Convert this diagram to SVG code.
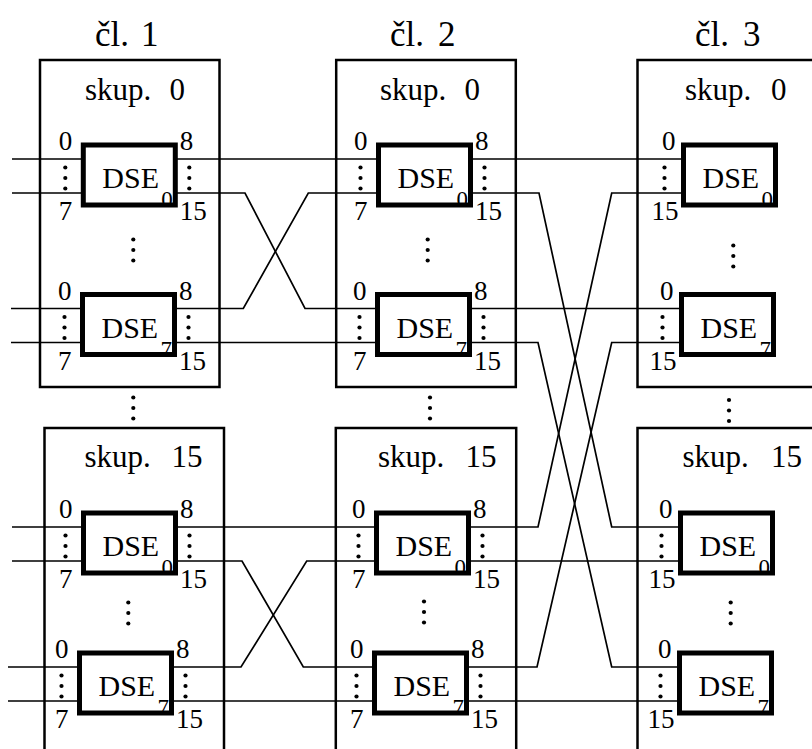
<svg xmlns="http://www.w3.org/2000/svg" xmlns:xlink="http://www.w3.org/1999/xlink" width="812" height="749" viewBox="0 0 812 749" font-family="'Liberation Serif', 'DejaVu Serif', 'Times New Roman', serif">
<style>
.grp{fill:none;stroke:#000;stroke-width:2.5}
.dse{fill:none;stroke:#000;stroke-width:5}
.w{fill:none;stroke:#000;stroke-width:1.7;stroke-linejoin:miter}
text{font-family:'Liberation Serif','DejaVu Serif','Times New Roman',serif;fill:#000}
.t{font-size:35px}
.g{font-size:31px}
.n{font-size:30px}
.p{font-size:27px}
.s{font-size:23px}
.e{text-anchor:end}
</style>
<defs>
<g id="vd"><circle cx="0" cy="-10.5" r="2.1"/><circle cx="0" cy="0" r="2.1"/><circle cx="0" cy="10.5" r="2.1"/></g>
</defs>
<rect width="812" height="749" fill="#fff"/>
<g id="titles">
<text class="t" x="95" y="46">čl. <tspan x="141">1</tspan></text>
<text class="t" x="390" y="46">čl. <tspan x="438">2</tspan></text>
<text class="t" x="695" y="46">čl. <tspan x="743">3</tspan></text>
</g>
<g id="c1g0"><rect class="grp" x="40" y="60" width="179.5" height="327"/><text class="g" x="85" y="100">skup. <tspan x="169.5">0</tspan></text><use xlink:href="#vd" x="133.3" y="250"/></g>
<g id="c1g15"><rect class="grp" x="44.5" y="428" width="179.5" height="340"/><text class="g" x="84.5" y="467">skup. <tspan x="171.5">15</tspan></text><use xlink:href="#vd" x="128.3" y="613"/></g>
<g id="c2g0"><rect class="grp" x="336.2" y="60" width="179.6" height="327"/><text class="g" x="380" y="100">skup. <tspan x="464.5">0</tspan></text><use xlink:href="#vd" x="427.7" y="250"/></g>
<g id="c2g15"><rect class="grp" x="335.8" y="428" width="180.4" height="340"/><text class="g" x="378" y="467">skup. <tspan x="465.5">15</tspan></text><use xlink:href="#vd" x="424" y="612"/></g>
<g id="c3g0"><rect class="grp" x="637.5" y="60" width="200" height="327"/><text class="g" x="685" y="100">skup. <tspan x="771">0</tspan></text><use xlink:href="#vd" x="733.3" y="256"/></g>
<g id="c3g15"><rect class="grp" x="637.5" y="428" width="200" height="340"/><text class="g" x="682.5" y="467">skup. <tspan x="771">15</tspan></text><use xlink:href="#vd" x="730.7" y="613"/></g>
<g id="gapdots">
<use xlink:href="#vd" x="133.3" y="408"/>
<use xlink:href="#vd" x="430" y="408"/>
<use xlink:href="#vd" x="729" y="410.5"/>
</g>
<g id="connectors" class="w">
<path d="M12,159H83.3M12,193H83.3M11,308.5H82.5M11,342.5H82.5M12,527H83.5M12,561H83.5M8,667H79.5M8,701H79.5"/>
<path d="M175.3,159H378.5"/>
<path d="M175.3,193H245L305,308.5H377.5"/>
<path d="M174.5,308.5H243.3L308.3,193H378.5"/>
<path d="M174.5,342.5H377.5"/>
<path d="M175.5,527H376.5"/>
<path d="M175.5,561H242L303.3,667H374.5"/>
<path d="M171.5,667H241L306.7,561H376.5"/>
<path d="M171.5,701H374.5"/>
<path d="M470.5,159H683.5"/>
<path d="M470.5,193H539L611.7,527H680.5"/>
<path d="M469.5,308.5H681.5"/>
<path d="M469.5,342.5H538L611.7,667H679.5"/>
<path d="M468.5,527H538L611.7,193H683.5"/>
<path d="M468.5,561H680.5"/>
<path d="M466.5,667H537L611.7,342.5H681.5"/>
<path d="M466.5,701H679.5"/>
</g>
<g id="c1g0d0" transform="translate(83.3,145)"><text class="s" x="78" y="62">0</text><rect class="dse" width="92" height="60"/><text class="n" x="19" y="43">DSE</text><text class="p e" x="-11" y="5">0</text><use xlink:href="#vd" x="-18" y="33"/><text class="p e" x="-11" y="75">7</text><text class="p" x="96.5" y="5">8</text><use xlink:href="#vd" x="106" y="33"/><text class="p" x="96.5" y="75">15</text></g>
<g id="c1g0d7" transform="translate(82.5,294.5)"><text class="s" x="78" y="62">7</text><rect class="dse" width="92" height="60"/><text class="n" x="19" y="43">DSE</text><text class="p e" x="-11" y="5">0</text><use xlink:href="#vd" x="-18" y="33"/><text class="p e" x="-11" y="75">7</text><text class="p" x="96.5" y="5">8</text><use xlink:href="#vd" x="106" y="33"/><text class="p" x="96.5" y="75">15</text></g>
<g id="c1g15d0" transform="translate(83.5,513)"><text class="s" x="78" y="62">0</text><rect class="dse" width="92" height="60"/><text class="n" x="19" y="43">DSE</text><text class="p e" x="-11" y="5">0</text><use xlink:href="#vd" x="-18" y="33"/><text class="p e" x="-11" y="75">7</text><text class="p" x="96.5" y="5">8</text><use xlink:href="#vd" x="106" y="33"/><text class="p" x="96.5" y="75">15</text></g>
<g id="c1g15d7" transform="translate(79.5,653)"><text class="s" x="78" y="62">7</text><rect class="dse" width="92" height="60"/><text class="n" x="19" y="43">DSE</text><text class="p e" x="-11" y="5">0</text><use xlink:href="#vd" x="-18" y="33"/><text class="p e" x="-11" y="75">7</text><text class="p" x="96.5" y="5">8</text><use xlink:href="#vd" x="106" y="33"/><text class="p" x="96.5" y="75">15</text></g>
<g id="c2g0d0" transform="translate(378.5,145)"><text class="s" x="78" y="62">0</text><rect class="dse" width="92" height="60"/><text class="n" x="19" y="43">DSE</text><text class="p e" x="-11" y="5">0</text><use xlink:href="#vd" x="-18" y="33"/><text class="p e" x="-11" y="75">7</text><text class="p" x="96.5" y="5">8</text><use xlink:href="#vd" x="106" y="33"/><text class="p" x="96.5" y="75">15</text></g>
<g id="c2g0d7" transform="translate(377.5,294.5)"><text class="s" x="78" y="62">7</text><rect class="dse" width="92" height="60"/><text class="n" x="19" y="43">DSE</text><text class="p e" x="-11" y="5">0</text><use xlink:href="#vd" x="-18" y="33"/><text class="p e" x="-11" y="75">7</text><text class="p" x="96.5" y="5">8</text><use xlink:href="#vd" x="106" y="33"/><text class="p" x="96.5" y="75">15</text></g>
<g id="c2g15d0" transform="translate(376.5,513)"><text class="s" x="78" y="62">0</text><rect class="dse" width="92" height="60"/><text class="n" x="19" y="43">DSE</text><text class="p e" x="-11" y="5">0</text><use xlink:href="#vd" x="-18" y="33"/><text class="p e" x="-11" y="75">7</text><text class="p" x="96.5" y="5">8</text><use xlink:href="#vd" x="106" y="33"/><text class="p" x="96.5" y="75">15</text></g>
<g id="c2g15d7" transform="translate(374.5,653)"><text class="s" x="78" y="62">7</text><rect class="dse" width="92" height="60"/><text class="n" x="19" y="43">DSE</text><text class="p e" x="-11" y="5">0</text><use xlink:href="#vd" x="-18" y="33"/><text class="p e" x="-11" y="75">7</text><text class="p" x="96.5" y="5">8</text><use xlink:href="#vd" x="106" y="33"/><text class="p" x="96.5" y="75">15</text></g>
<g id="c3g0d0" transform="translate(683.5,145)"><text class="s" x="78" y="62">0</text><rect class="dse" width="92" height="60"/><text class="n" x="19" y="43">DSE</text><text class="p e" x="-8" y="5">0</text><use xlink:href="#vd" x="-19" y="33"/><text class="p e" x="-5" y="75">15</text></g>
<g id="c3g0d7" transform="translate(681.5,294.5)"><text class="s" x="78" y="62">7</text><rect class="dse" width="92" height="60"/><text class="n" x="19" y="43">DSE</text><text class="p e" x="-8" y="5">0</text><use xlink:href="#vd" x="-19" y="33"/><text class="p e" x="-5" y="75">15</text></g>
<g id="c3g15d0" transform="translate(680.5,513)"><text class="s" x="78" y="62">0</text><rect class="dse" width="92" height="60"/><text class="n" x="19" y="43">DSE</text><text class="p e" x="-8" y="5">0</text><use xlink:href="#vd" x="-19" y="33"/><text class="p e" x="-5" y="75">15</text></g>
<g id="c3g15d7" transform="translate(679.5,653)"><text class="s" x="78" y="62">7</text><rect class="dse" width="92" height="60"/><text class="n" x="19" y="43">DSE</text><text class="p e" x="-8" y="5">0</text><use xlink:href="#vd" x="-19" y="33"/><text class="p e" x="-5" y="75">15</text></g>
</svg>
